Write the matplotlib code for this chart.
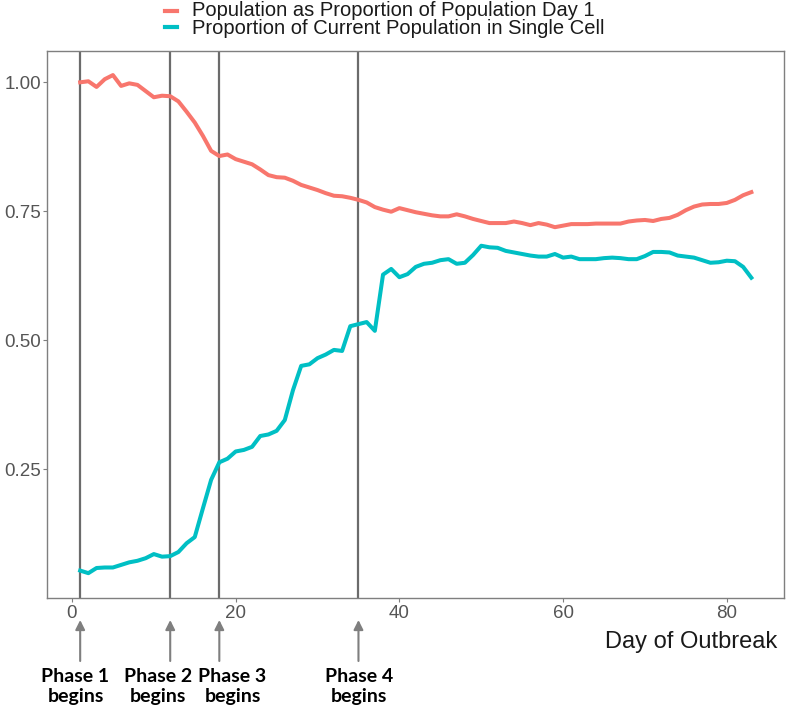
import matplotlib
matplotlib.use("Agg")
import matplotlib.pyplot as plt
from matplotlib.lines import Line2D
from matplotlib import font_manager

# ---------------- data ----------------
days = list(range(1, 84))
pop_prop_day1 = [
    1.000, 1.002, 0.991, 1.006, 1.014, 0.993, 0.998, 0.995, 0.983, 0.971,
    0.974, 0.973, 0.963, 0.943, 0.922, 0.896, 0.867, 0.857, 0.860, 0.851,
    0.846, 0.841, 0.831, 0.820, 0.816, 0.815, 0.809, 0.801, 0.796, 0.791,
    0.785, 0.780, 0.779, 0.776, 0.772, 0.767, 0.758, 0.753, 0.749, 0.756,
    0.752, 0.748, 0.745, 0.742, 0.740, 0.740, 0.744, 0.740, 0.735, 0.731,
    0.727, 0.727, 0.727, 0.730, 0.727, 0.723, 0.727, 0.724, 0.719, 0.722,
    0.725, 0.725, 0.725, 0.726, 0.726, 0.726, 0.726, 0.730, 0.732, 0.733,
    0.731, 0.735, 0.737, 0.743, 0.752, 0.759, 0.763, 0.764, 0.764, 0.766,
    0.772, 0.781, 0.787,
]
single_cell_prop = [
    0.053, 0.048, 0.058, 0.059, 0.059, 0.064, 0.069, 0.072, 0.077, 0.085,
    0.080, 0.081, 0.089, 0.106, 0.118, 0.174, 0.229, 0.263, 0.270, 0.284,
    0.287, 0.293, 0.314, 0.317, 0.324, 0.345, 0.403, 0.450, 0.453, 0.465,
    0.472, 0.481, 0.479, 0.527, 0.531, 0.535, 0.518, 0.627, 0.638, 0.622,
    0.628, 0.642, 0.648, 0.650, 0.655, 0.657, 0.648, 0.650, 0.665, 0.683,
    0.680, 0.679, 0.673, 0.670, 0.667, 0.664, 0.662, 0.662, 0.667, 0.660,
    0.662, 0.657, 0.657, 0.657, 0.659, 0.660, 0.659, 0.657, 0.657, 0.663,
    0.671, 0.671, 0.670, 0.664, 0.662, 0.660, 0.655, 0.650, 0.651, 0.654,
    0.653, 0.642, 0.621,
]
series_labels = ["Population as Proportion of Population Day 1",
                 "Proportion of Current Population in Single Cell"]
phase_days = [1, 12, 18, 35]
phase_labels = ["Phase 1\nbegins", "Phase 2\nbegins", "Phase 3\nbegins", "Phase 4\nbegins"]
x_ticks = [0, 20, 40, 60, 80]
y_ticks = [0.25, 0.50, 0.75, 1.00]
y_tick_labels = ["0.25", "0.50", "0.75", "1.00"]
x_label = "Day of Outbreak"

# ---------------- style ----------------
PINK = "#F8766D"
CYAN = "#00BFC4"
BASE = ['Liberation Sans', 'DejaVu Sans']
plt.rcParams['font.family'] = BASE
names = {f.name for f in font_manager.fontManager.ttflist}
narrow = [n for n in ['Liberation Sans Narrow', 'Lato', 'Liberation Sans'] if n in names] + ['DejaVu Sans']

W, H = 787, 707
fig = plt.figure(figsize=(W / 100, H / 100), dpi=100)
L, R, T, B = 46.7, 784, 50.7, 597.7
ax = fig.add_axes([L / W, 1 - B / H, (R - L) / W, (B - T) / H])

for d in phase_days:
    ax.axvline(d, color="#6b6b6b", lw=1.6, zorder=1)

ax.plot(days, pop_prop_day1, color=PINK, lw=2.9, solid_joinstyle='round', zorder=3)
ax.plot(days, single_cell_prop, color=CYAN, lw=2.9, solid_joinstyle='round', zorder=3)

ax.set_xlim(-3.09, 86.99)
ax.set_ylim(0.0004, 1.0613)
ax.set_xticks(x_ticks)
ax.set_yticks(y_ticks)
ax.set_yticklabels(y_tick_labels)
ax.tick_params(axis='both', colors='#7f7f7f', labelcolor='#555555', labelsize=13.5,
               length=3.0, width=0.8)
ax.tick_params(axis='y', pad=1.0)
ax.tick_params(axis='x', pad=2.5)
for t in ax.get_xticklabels() + ax.get_yticklabels():
    t.set_family(BASE)
for sp in ax.spines.values():
    sp.set_color('#7f7f7f')
    sp.set_linewidth(1.0)

fig.text(777 / W, 1 - 642 / H, x_label, ha='right', va='center', fontsize=17,
         color='#1a1a1a', family=BASE)

# legend (manual, at top): keys + one two-line label block
row_y = [10.7, 27.2]
for yc_px, col in zip(row_y, [PINK, CYAN]):
    yc = 1 - yc_px / H
    fig.add_artist(Line2D([165 / W, 177 / W], [yc, yc], color=col, lw=3.0,
                          transform=fig.transFigure))
fig.text(192 / W, 1 - (sum(row_y) / 2 + 0.5) / H, "\n".join(series_labels), ha='left',
         va='center', fontsize=14.5, color='#1a1a1a', linespacing=0.88, family=BASE)

# phase arrows + labels
label_x_px = [75.5, 158, 232.5, 359]
for d, lab, lx in zip(phase_days, phase_labels, label_x_px):
    ax.annotate('', xy=(d, 1 - 620 / H), xytext=(d, 1 - 661 / H),
                xycoords=('data', 'figure fraction'), textcoords=('data', 'figure fraction'),
                arrowprops=dict(arrowstyle='-|>', color='#7f7f7f', lw=1.5,
                                mutation_scale=14, shrinkA=0, shrinkB=0),
                annotation_clip=False)
    fig.text(lx / W, 1 - 686.5 / H, lab, ha='center', va='center', fontsize=14,
             fontweight='bold', family=narrow, linespacing=1.2, color='black')

fig.savefig("out.png", dpi=100)
